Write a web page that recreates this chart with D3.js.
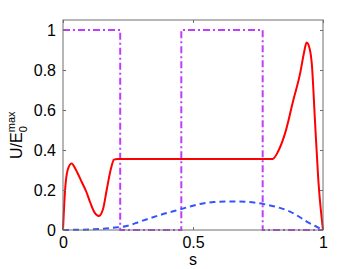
<!DOCTYPE html>
<html>
<head>
<meta charset="utf-8">
<script src="https://cdn.jsdelivr.net/npm/d3@7"></script>
<style>
  body { margin: 0; background: #fff; }
  svg { display: block; font-family: "Liberation Sans", Arial, sans-serif; }
</style>
</head>
<body>
<div id="chart"></div>
<script>
// data
const redS = [0, 0.008, 0.018, 0.033, 0.05, 0.072, 0.09, 0.104, 0.12, 0.138, 0.155, 0.168, 0.185, 0.196, 0.21, 0.5, 0.806, 0.83, 0.854, 0.886, 0.912, 0.926, 0.937, 0.948, 0.957, 0.969, 0.982, 1];
const redU = [0, 0.2, 0.3, 0.333, 0.3, 0.24, 0.19, 0.14, 0.09, 0.07, 0.11, 0.2, 0.31, 0.352, 0.355, 0.355, 0.355, 0.4, 0.483, 0.65, 0.783, 0.88, 0.937, 0.91, 0.83, 0.55, 0.25, 0];

const blueS = [0, 0.1, 0.2, 0.245, 0.296, 0.373, 0.45, 0.527, 0.58, 0.642, 0.7, 0.77, 0.83, 0.873, 0.91, 0.937, 0.97, 1];
const blueU = [0, 0.003, 0.012, 0.02, 0.042, 0.075, 0.103, 0.13, 0.14, 0.143, 0.141, 0.13, 0.112, 0.092, 0.065, 0.042, 0.02, 0];

const purpleS = [0, 0.22, 0.22, 0.455, 0.455, 0.768, 0.768, 1];
const purpleU = [1, 1, 0, 0, 1, 1, 0, 0];

const xTicks = [0, 0.5, 1];
const yTicks = [0, 0.2, 0.4, 0.6, 0.8, 1];

const width = 357, height = 269;
const margin = {left: 63, right: 34, top: 20, bottom: 39};
const axisColor = "#6e6e6e";

const svg = d3.select("#chart").append("svg")
  .attr("width", width)
  .attr("height", height);

const x = d3.scaleLinear().domain([0, 1]).range([margin.left, width - margin.right]);
const y = d3.scaleLinear().domain([0, 1.05]).range([height - margin.bottom, margin.top]);

const zip = (a, b) => a.map((v, i) => [v, b[i]]);

const line = d3.line().x(d => x(d[0])).y(d => y(d[1]));
const smooth = d3.line().x(d => x(d[0])).y(d => y(d[1])).curve(d3.curveMonotoneX);

// purple step line
svg.append("path")
  .attr("d", line(zip(purpleS, purpleU)))
  .attr("fill", "none")
  .attr("stroke", "#c03cff")
  .attr("stroke-width", 2)
  .attr("stroke-dasharray", "7,3,2,3");

// blue dashed
svg.append("path")
  .attr("d", smooth(zip(blueS, blueU)))
  .attr("fill", "none")
  .attr("stroke", "#3355ff")
  .attr("stroke-width", 2)
  .attr("stroke-dasharray", "6,4");

// red solid
svg.append("path")
  .attr("d", smooth(zip(redS, redU)))
  .attr("fill", "none")
  .attr("stroke", "#ff0000")
  .attr("stroke-width", 2);

// box with inward ticks on all sides
const x0 = x(0), x1 = x(1), yb = y(0), yt = y(1.05);
svg.append("rect")
  .attr("x", x0).attr("y", yt)
  .attr("width", x1 - x0).attr("height", yb - yt)
  .attr("fill", "none")
  .attr("stroke", axisColor)
  .attr("stroke-width", 1);

const axisL = svg.append("g").attr("transform", `translate(${x0},0)`)
  .call(d3.axisLeft(y).tickValues(yTicks).tickSize(-3).tickPadding(7).tickFormat(d3.format("")));
const axisR = svg.append("g").attr("transform", `translate(${x1},0)`)
  .call(d3.axisRight(y).tickValues(yTicks).tickSize(-3).tickFormat(""));
const axisB = svg.append("g").attr("transform", `translate(0,${yb})`)
  .call(d3.axisBottom(x).tickValues(xTicks).tickSize(-3).tickPadding(7).tickFormat(d3.format("")));
const axisT = svg.append("g").attr("transform", `translate(0,${yt})`)
  .call(d3.axisTop(x).tickValues(xTicks).tickSize(-3).tickFormat(""));

[axisL, axisR, axisB, axisT].forEach(g => {
  g.select(".domain").remove();
  g.selectAll(".tick line").attr("stroke", axisColor);
  g.selectAll(".tick text").attr("fill", "#000").attr("font-size", 16)
    .attr("font-family", "Liberation Sans, Arial, sans-serif");
});

// labels
svg.append("text")
  .attr("x", x(0.5)).attr("y", 265)
  .attr("text-anchor", "middle")
  .attr("font-size", 16)
  .text("s");

const yl = svg.append("text")
  .attr("transform", "translate(22,159) rotate(-90)")
  .attr("font-size", 16);
yl.append("tspan").text("U/E");
yl.append("tspan").attr("font-size", 11).attr("dy", 5).text("0");
yl.append("tspan").attr("font-size", 11).attr("dx", -6).attr("dy", -12).text("max");
</script>
</body>
</html>
